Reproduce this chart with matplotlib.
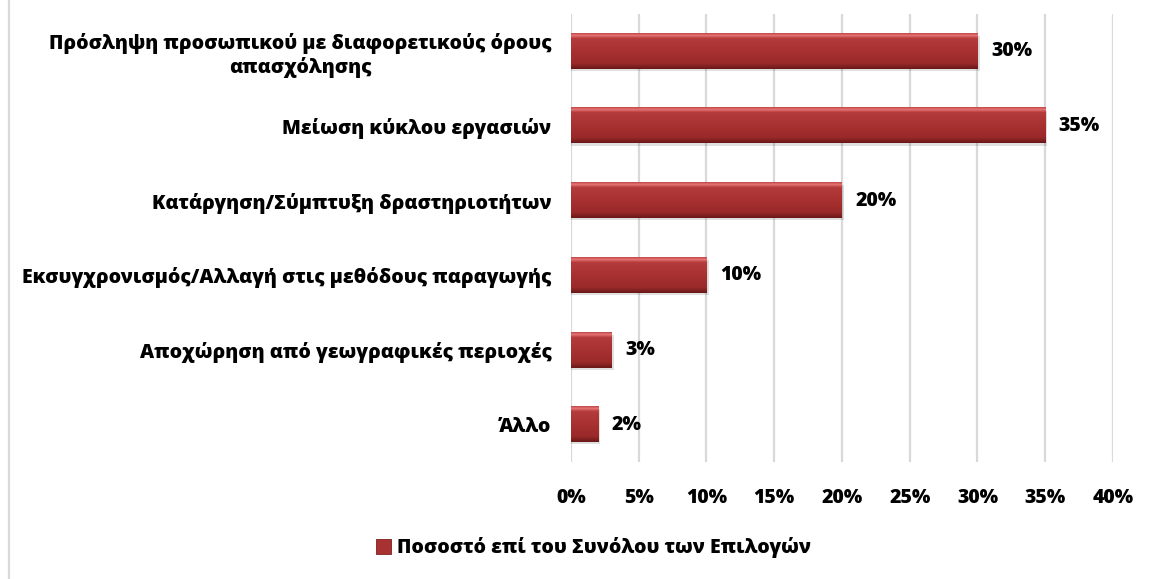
import numpy as np
import matplotlib
matplotlib.use("Agg")
import matplotlib.pyplot as plt
from matplotlib.colors import LinearSegmentedColormap
from matplotlib.patches import Patch
from matplotlib.lines import Line2D
from matplotlib.ticker import FuncFormatter

categories = [
    "Πρόσληψη προσωπικού με διαφορετικούς όρους\nαπασχόλησης",
    "Μείωση κύκλου εργασιών",
    "Κατάργηση/Σύμπτυξη δραστηριοτήτων",
    "Εκσυγχρονισμός/Αλλαγή στις μεθόδους παραγωγής",
    "Αποχώρηση από γεωγραφικές περιοχές",
    "Άλλο",
]
values = [30, 35, 20, 10, 3, 2]
xticks = [0, 5, 10, 15, 20, 25, 30, 35, 40]
series_name = "Ποσοστό επί του Συνόλου των Επιλογών"

FONT = ["Open Sans", "DejaVu Sans"]
plt.rcParams["font.family"] = FONT
FS = 14
FW = 800

fig = plt.figure(figsize=(11.5, 5.79), dpi=100)
ax = fig.add_axes([0.4965, 0.202, 0.4713, 0.774])

n = len(categories)
ypos = np.arange(n)
h = 0.47

cmap = LinearSegmentedColormap.from_list(
    "bar",
    [(0.0, "#c04a4a"), (0.06, "#e87676"), (0.14, "#b53b3b"),
     (0.5, "#a83131"), (0.85, "#9a2929"), (1.0, "#6a1818")],
)
grad = np.linspace(0, 1, 64).reshape(-1, 1)

for y, v in zip(ypos, values):
    ax.imshow(grad, cmap=cmap, aspect="auto", origin="upper",
              extent=(0, v, y + h / 2, y - h / 2), zorder=3,
              interpolation="bilinear")
    ax.barh(y + 0.03, v + 0.15, height=h, color="#000000", alpha=0.12, zorder=2,
            linewidth=0)
    ax.text(v + 1.0, y, f"{v}%", va="center", ha="left",
            fontsize=FS, fontweight=FW, color="black")

ax.set_xlim(0, 40)
ax.set_ylim(n - 0.5, -0.5)
ax.set_xticks(xticks)
ax.xaxis.set_major_formatter(FuncFormatter(lambda x, p: f"{int(x)}%"))
ax.set_yticks(ypos)
ax.set_yticklabels(categories, fontsize=FS, fontweight=FW,
                   multialignment="center")
for lab in ax.get_xticklabels():
    lab.set_fontsize(FS)
    lab.set_fontweight(FW)
ax.tick_params(axis="x", length=0, pad=19)
ax.tick_params(axis="y", length=0, pad=14)
ax.grid(axis="x", color="#d9d9d9", linewidth=1.6, zorder=0)
ax.set_axisbelow(True)
for s in ax.spines.values():
    s.set_visible(False)

handle = Patch(facecolor="#a83232", edgecolor="#7a1f1f", linewidth=0.6)
fig.legend([handle], [series_name], loc="center", bbox_to_anchor=(0.516, 0.054),
           frameon=False, prop={"size": FS, "weight": FW},
           handlelength=0.75, handleheight=0.75, handletextpad=0.3)

fig.add_artist(Line2D([8.5 / 1150, 8.5 / 1150], [0, 1], transform=fig.transFigure,
                      color="#d9d9d9", linewidth=1.6))

fig.savefig("out.png", dpi=100, facecolor="white")
